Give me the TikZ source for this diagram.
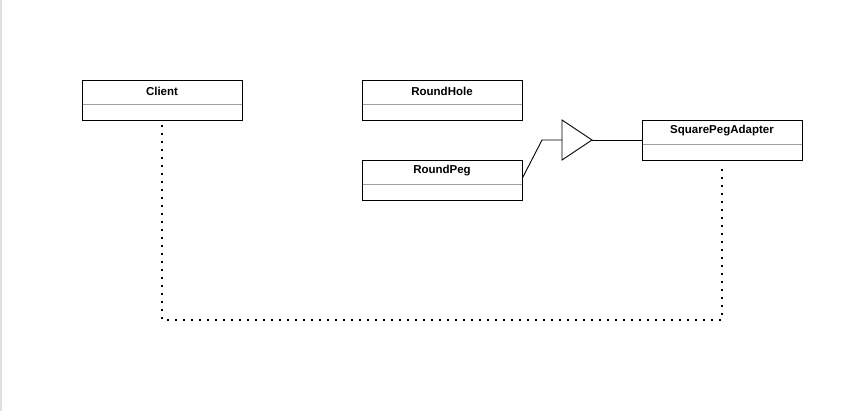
\documentclass[tikz,border=0pt]{standalone}
\usepackage{fontspec}
\setmainfont{Liberation Sans}
\begin{document}
\begin{tikzpicture}[x=1pt,y=-1pt,
  classbox/.style={draw=black, line width=0.9pt, minimum width=160pt, minimum height=40pt, inner sep=0pt,
    path picture={\draw[black!38, line width=0.9pt] ([yshift=-24pt]path picture bounding box.north west) -- ([yshift=-24pt]path picture bounding box.north east);}},
  ttl/.style={font=\bfseries\fontsize{11.5}{13}\selectfont},
  conn/.style={draw=black, line width=0.9pt},
  dotline/.style={draw=black, line width=1.6pt, dash pattern=on 1.6pt off 6.4pt}]
\useasboundingbox (0,0) rectangle (853,411);
\fill[black!12] (0,0) rectangle (2,411);
\node[classbox] (client) at (162,100) {};
\node[ttl] (clientt) at (162,91) {Client};
\node[classbox] (hole) at (442,100) {};
\node[ttl] (holet) at (442,91) {RoundHole};
\node[classbox] (peg) at (442,180) {};
\node[ttl] (pegt) at (442,171) {RoundPeg};
\node[classbox] (adapter) at (722,140) {};
\node[ttl] (adaptert) at (722,131) {SquarePegAdapter};
\coordinate (tb) at (562,140);
\coordinate (tapex) at (592,140);
\draw[conn, line join=miter] (562,120) -- (tapex) -- (562,160) -- cycle;
\coordinate (bend) at (542,140);
\draw[conn] ([yshift=2pt]peg.east) -- (bend) -- (tb);
\draw[conn] (tapex) -- (adapter.west);
\coordinate (c1) at (162,320);
\draw[dotline] ([yshift=-5pt]client.south) -- (c1) -| ([yshift=-5pt]adapter.south);
\end{tikzpicture}
\end{document}
